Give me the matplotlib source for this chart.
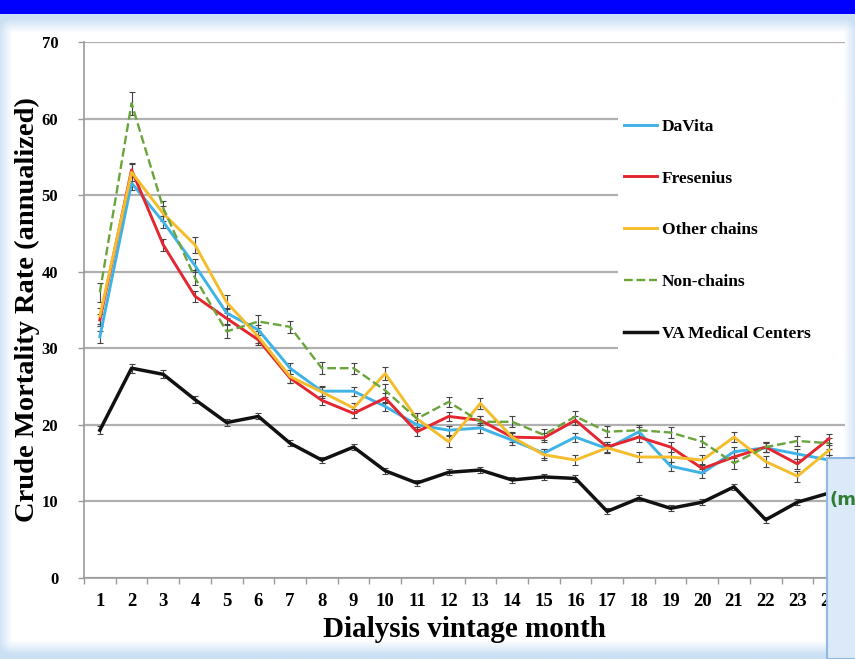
import numpy as np
import matplotlib
matplotlib.use("Agg")
import matplotlib.pyplot as plt
from matplotlib.patches import Rectangle

# ---------------- data ----------------
months = list(range(1, 25))
month_labels = [str(m) for m in months]

davita = [31.5, 51.6, 46.5, 40.8, 34.6, 32.4, 27.4, 24.4, 24.4, 22.4, 20.0, 19.3,
          19.6, 18.0, 16.3, 18.4, 16.9, 19.1, 14.6, 13.7, 16.5, 17.0, 16.2, 15.4]
fresenius = [33.7, 53.3, 43.5, 36.8, 33.9, 31.1, 26.1, 23.2, 21.5, 23.5, 19.1, 21.1,
             20.6, 18.4, 18.3, 20.6, 17.1, 18.4, 17.1, 14.3, 15.8, 17.1, 14.9, 18.2]
other_chains = [34.2, 53.0, 47.6, 43.5, 36.0, 31.5, 26.3, 24.3, 22.2, 26.7, 20.8, 17.8,
                22.8, 18.4, 16.1, 15.4, 17.0, 15.8, 15.8, 15.4, 18.4, 15.2, 13.3, 16.7]
non_chains = [37.3, 62.0, 48.3, 39.2, 32.2, 33.5, 32.8, 27.4, 27.4, 24.5, 20.8, 23.0,
              20.4, 20.4, 18.7, 21.1, 19.1, 19.3, 19.0, 17.8, 15.0, 17.1, 17.9, 17.6]
va_centers = [19.3, 27.4, 26.6, 23.3, 20.3, 21.1, 17.6, 15.4, 17.1, 14.0, 12.4, 13.8,
              14.1, 12.8, 13.2, 13.0, 8.7, 10.4, 9.1, 9.9, 11.9, 7.6, 9.9, 11.1]

err_davita = [0.8, 0.9, 0.8, 0.8, 0.7, 0.7, 0.7, 0.6, 0.6, 0.6, 0.6, 0.6,
              0.6, 0.6, 0.6, 0.6, 0.6, 0.6, 0.6, 0.6, 0.6, 0.6, 0.6, 0.6]
err_fresenius = [0.8, 0.9, 0.8, 0.7, 0.7, 0.7, 0.6, 0.6, 0.6, 0.6, 0.6, 0.6,
                 0.6, 0.6, 0.6, 0.6, 0.6, 0.6, 0.6, 0.6, 0.6, 0.6, 0.6, 0.6]
err_other = [1.0, 1.1, 1.0, 1.0, 0.9, 0.8, 0.8, 0.8, 0.7, 0.8, 0.7, 0.7,
             0.7, 0.7, 0.7, 0.7, 0.7, 0.7, 0.7, 0.7, 0.7, 0.7, 0.7, 0.7]
err_non = [1.2, 1.5, 1.0, 1.0, 0.9, 0.8, 0.8, 0.8, 0.7, 0.8, 0.7, 0.7,
           0.7, 0.7, 0.7, 0.7, 0.7, 0.7, 0.7, 0.7, 0.7, 0.7, 0.7, 0.7]
err_va = [0.5, 0.6, 0.5, 0.5, 0.4, 0.4, 0.4, 0.4, 0.4, 0.4, 0.4, 0.4,
          0.4, 0.4, 0.4, 0.4, 0.4, 0.4, 0.4, 0.4, 0.4, 0.4, 0.4, 0.4]

series_names = ["DaVita", "Fresenius", "Other chains", "Non-chains", "VA Medical Centers"]

# ---------------- figure ----------------
W, H = 855, 659
fig = plt.figure(figsize=(W / 100, H / 100), dpi=100)
fig.patch.set_facecolor("#d3e5f6")

# background panel (slide frame) with soft light-blue edges
bg = fig.add_axes([0, 0, 1, 1], zorder=-5)
yy, xx = np.mgrid[0:H, 0:W]
x0, x1, y0, y1 = 12, 842, 32, 640
dx = np.maximum(np.maximum(x0 - xx, xx - x1), 0)
dy = np.maximum(np.maximum(y0 - yy, yy - y1), 0)
d = np.sqrt(dx ** 2 + dy ** 2)
t = np.clip(d / 14.0, 0, 1)[..., None]
white = np.array([1.0, 1.0, 1.0])
edge = np.array([0.80, 0.88, 0.96])
img = white * (1 - t) + edge * t
img[0:14, :, :] = np.array([0.0, 0.0, 1.0])
bg.imshow(img, extent=[0, W, H, 0], aspect="auto", interpolation="bilinear")
bg.set_xlim(0, W)
bg.set_ylim(H, 0)
bg.axis("off")

serif = "Liberation Serif"
ax_left, ax_right, ax_top, ax_bottom = 84, 845, 42, 578
ax = fig.add_axes([ax_left / W, 1 - ax_bottom / H,
                   (ax_right - ax_left) / W, (ax_bottom - ax_top) / H])
ax.set_facecolor("none")

colors = ["#3fb3e6", "#e3262f", "#f5bd2c", "#6aa53c", "#111111"]
styles = ["-", "-", "-", "--", "-"]
widths = [2.1, 2.1, 2.1, 1.7, 2.5]
data = [davita, fresenius, other_chains, non_chains, va_centers]
errs = [err_davita, err_fresenius, err_other, err_non, err_va]

handles = []
for name, vals, e, c, ls, lw in zip(series_names, data, errs, colors, styles, widths):
    eb = ax.errorbar(months, vals, yerr=e, color=c, ls=ls, lw=lw,
                     ecolor="#444444", elinewidth=0.8, capsize=2.2, capthick=0.8,
                     label=name, zorder=3)
    handles.append(eb.lines[0])

ax.set_xlim(0.5, 24.5)
ax.set_ylim(0, 70)
ax.set_yticks(range(0, 71, 10))
ax.set_xticks(months)
ax.set_xticklabels(month_labels)
ax.set_xticks(np.arange(0.5, 24.6, 1.0), minor=True)
ax.grid(axis="y", color="#b0b0b0", lw=1.6, zorder=0)
for s in ["top", "right"]:
    ax.spines[s].set_visible(False)
for s in ["left", "bottom"]:
    ax.spines[s].set_color("#9a9a9a")
    ax.spines[s].set_linewidth(1.2)
ax.tick_params(axis="x", which="major", length=0, pad=11)
ax.tick_params(axis="x", which="minor", length=4.5, color="#9a9a9a", width=1.0)
ax.tick_params(axis="y", length=4.5, color="#9a9a9a", width=1.0, pad=14)
for lab in ax.get_xticklabels():
    lab.set_fontfamily(serif)
    lab.set_fontweight("bold")
    lab.set_fontsize(13.5)
for lab in ax.get_yticklabels():
    lab.set_fontfamily(serif)
    lab.set_fontweight("bold")
    lab.set_fontsize(12)

ax.set_xlabel("Dialysis vintage month", fontfamily=serif, fontweight="bold",
              fontsize=21, labelpad=4)
ax.set_ylabel("Crude Mortality Rate (annualized)", fontfamily=serif,
              fontweight="bold", fontsize=20.5)
ax.yaxis.set_label_coords(-(84 - 40) / (ax_right - ax_left), (578 - 310) / (ax_bottom - ax_top))

# white backing behind legend (covers gridlines)
ax.add_patch(Rectangle(((618 - ax_left) / (ax_right - ax_left), (578 - 356) / (ax_bottom - ax_top)),
                       (ax_right - 618) / (ax_right - ax_left), (356 - 102) / (ax_bottom - ax_top),
                       transform=ax.transAxes, facecolor="white", edgecolor="none", zorder=2))

leg = ax.legend(handles, series_names, loc="upper left",
                bbox_to_anchor=(0.700, 0.870), frameon=False, borderaxespad=0,
                labelspacing=2.05, handlelength=1.9, handletextpad=0.3,
                prop={"family": serif, "weight": "bold", "size": 12.5})
leg.set_zorder(5)

# overlapping callout box at bottom right
box_l, box_t = 827, 458
fig.add_artist(Rectangle((box_l / W, 0), (W - box_l) / W + 0.01, 1 - box_t / H,
                         transform=fig.transFigure, facecolor="#dbe9f8",
                         edgecolor="#8fb8e3", lw=1.5, zorder=10))
fig.text(829 / W, 1 - 500 / H, "(m", color="#2e7d32", fontsize=13,
         fontweight="bold", va="center", ha="left", zorder=11)

fig.savefig("out.png", dpi=100)
